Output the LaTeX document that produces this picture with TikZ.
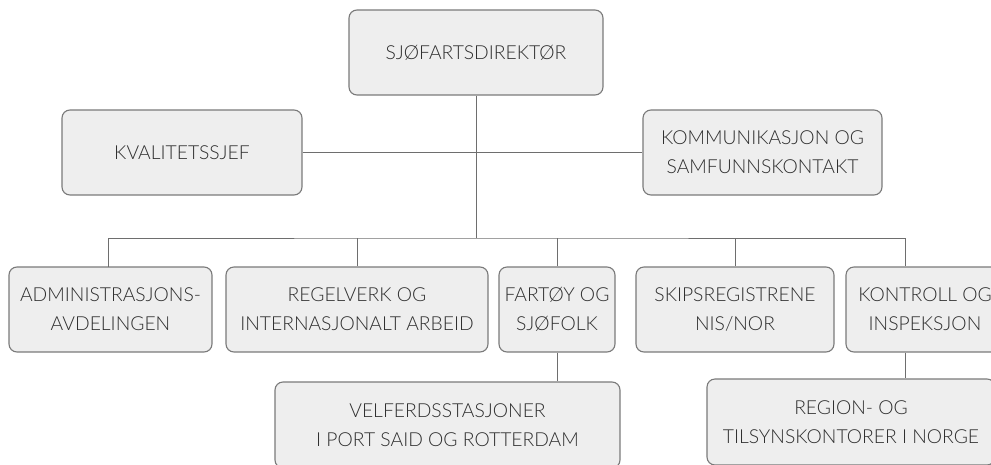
\documentclass[tikz,border=0pt]{standalone}
\usepackage{fontspec}
\setmainfont{Lato Light}
\usetikzlibrary{calc}
\definecolor{boxfill}{HTML}{EEEEEE}
\definecolor{boxline}{HTML}{7A7A7A}
\definecolor{linkc}{HTML}{6E6E6E}
\definecolor{txt}{HTML}{2E2E2E}
\begin{document}
\begin{tikzpicture}[x=1pt,y=-1pt,
  unit/.style={draw=boxline, line width=1.1pt, fill=boxfill, rounded corners=8pt,
    align=center, text=txt, font=\fontsize{19.3}{29}\selectfont, inner sep=0pt},
  link/.style={draw=linkc, line width=1pt}]
\useasboundingbox (0,0) rectangle (991,464);
\node[unit, minimum width=254pt, minimum height=85pt] (dir) at (476,52.5) {SJØFARTSDIREKTØR};
\node[unit, minimum width=240pt, minimum height=85pt] (kval) at (182,152.5) {KVALITETSSJEF};
\node[unit, minimum width=239pt, minimum height=85pt] (komm) at (762.5,152.5) {KOMMUNIKASJON OG\\SAMFUNNSKONTAKT};
\node[unit, minimum width=203pt, minimum height=85pt] (adm) at (110.5,309.5) {ADMINISTRASJONS-\\AVDELINGEN};
\node[unit, minimum width=262pt, minimum height=85pt] (reg) at (357,309.5) {REGELVERK OG\\INTERNASJONALT ARBEID};
\node[unit, minimum width=116pt, minimum height=85pt] (far) at (557,309.5) {FARTØY OG\\SJØFOLK};
\node[unit, minimum width=198pt, minimum height=85pt] (skip) at (735,309.5) {SKIPSREGISTRENE\\NIS/NOR};
\node[unit, minimum width=158pt, minimum height=85pt] (kon) at (925,309.5) {KONTROLL OG\\INSPEKSJON};
\node[unit, minimum width=345pt, minimum height=86pt] (vel) at (447.5,425) {VELFERDSSTASJONER\\I PORT SAID OG ROTTERDAM};
\node[unit, minimum width=288pt, minimum height=86pt] (regn) at (851,422) {REGION- OG\\TILSYNSKONTORER I NORGE};
\coordinate (bus) at (476,238);
\coordinate (admtop) at (108,267);
\coordinate (kontop) at ($(kon.north west)+(60,0)$);
\coordinate (konbot) at ($(kon.south west)+(60,0)$);
\draw[link] (dir.south) -- (dir.south |- bus);
\draw[link] (kval.east) -- (komm.west);
\draw[link] (admtop) |- (bus) -| (kontop);
\foreach \n in {reg,far,skip} \draw[link] (\n.north) -- (\n.north |- bus);
\draw[link] (far.south) -- (far.south |- vel.north);
\draw[link] (konbot) -- (konbot |- regn.north);
\end{tikzpicture}
\end{document}
